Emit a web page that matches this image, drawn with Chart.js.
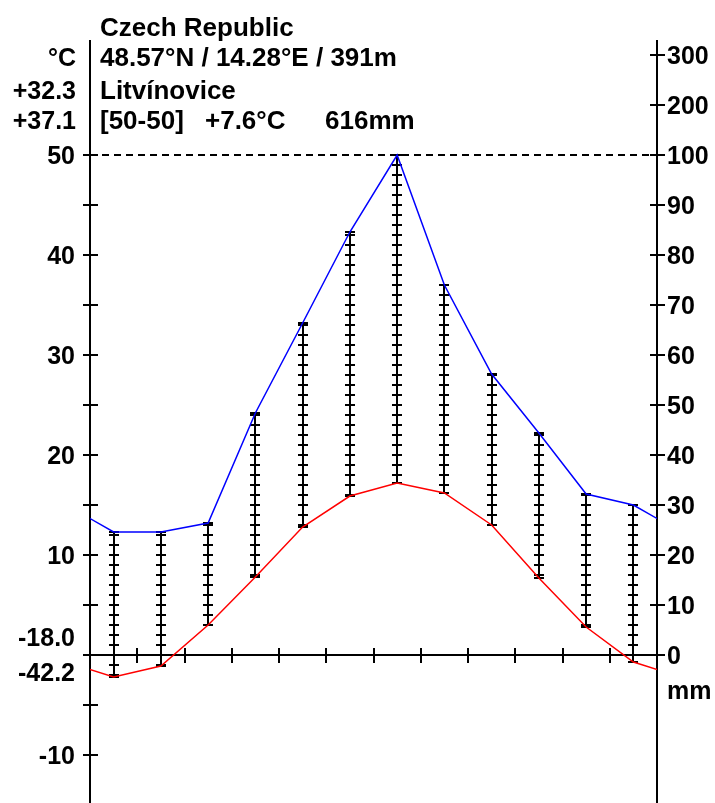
<!DOCTYPE html>
<html>
<head>
<meta charset="utf-8">
<script src="https://cdn.jsdelivr.net/npm/chart.js@4/dist/chart.umd.min.js"></script>
<style>
  html, body { margin: 0; padding: 0; background: #fff; }
  #wrap { width: 715px; height: 803px; }
</style>
</head>
<body>
<div id="wrap"><canvas id="climate" width="715" height="803"></canvas></div>
<script>
// monthly means, Jan..Dec
const months = ['Jan', 'Feb', 'Mar', 'Apr', 'May', 'Jun', 'Jul', 'Aug', 'Sep', 'Oct', 'Nov', 'Dec'];
const tempC = [-2.2, -1.1, 3.0, 7.8, 12.8, 15.9, 17.2, 16.2, 13.0, 7.7, 2.8, -0.7];
const precipMm = [24.6, 24.6, 26.4, 48.4, 66.4, 84.6, 100, 74, 56.2, 44.4, 32.2, 30];

// axis ticks
const tempTicks = [50, 45, 40, 35, 30, 25, 20, 15, 10, 5, 0, -5, -10];
const tempTickLabels = ['50', '', '40', '', '30', '', '20', '', '10', '', '', '', '-10'];
const precipTicks = [300, 200, 100, 90, 80, 70, 60, 50, 40, 30, 20, 10, 0];

// station header
const headerLines = ['Czech Republic', '48.57°N / 14.28°E / 391m', 'Litvínovice'];
const headerStats = ['[50-50]', '+7.6°C', '616mm'];
const tempExtremesTop = ['°C', '+32.3', '+37.1'];
const tempExtremesLow = ['-18.0', '-42.2'];

const FONT = 'bold 25px "Liberation Sans", Arial, sans-serif';
const HEAD_FONT = 'bold 26px "Liberation Sans", Arial, sans-serif';

// above 100 mm the precipitation axis is compressed 1:10
const mmToScale = v => v <= 100 ? v : 100 + (v - 100) / 10;

// wrap Dec before Jan and Jan after Dec so the curves run to the frame
const wrapSeries = (vals, fn) => {
  const pts = vals.map((v, i) => ({ x: i + 0.5, y: fn(v) }));
  pts.unshift({ x: -0.5, y: fn(vals[vals.length - 1]) });
  pts.push({ x: vals.length + 0.5, y: fn(vals[0]) });
  return pts;
};

const frame = {
  id: 'frame',
  beforeDatasetsDraw(chart) {
    const { ctx, chartArea: a, scales } = chart;
    const x = scales.x, yT = scales.yT, yP = scales.yP;
    ctx.save();
    ctx.strokeStyle = '#000';

    // humid period hatching, one ladder per month
    ctx.lineWidth = 2;
    months.forEach((m, i) => {
      const px = Math.round(x.getPixelForValue(i + 0.5));
      const lo = tempC[i] * 2, hi = precipMm[i];
      if (hi <= lo) return;
      const yLo = yP.getPixelForValue(lo), yHi = yP.getPixelForValue(mmToScale(hi));
      ctx.beginPath();
      ctx.moveTo(px, yLo);
      ctx.lineTo(px, yHi);
      const rungs = [lo, hi];
      for (let v = Math.ceil(lo / 2) * 2; v <= hi; v += 2) rungs.push(v);
      rungs.forEach(v => {
        const py = Math.round(yP.getPixelForValue(mmToScale(v)));
        ctx.moveTo(px - 5, py);
        ctx.lineTo(px + 5, py);
      });
      ctx.stroke();
    });

    // dashed 100 mm / 50 °C line
    ctx.lineWidth = 2;
    ctx.setLineDash([7, 5]);
    const y100 = Math.round(yP.getPixelForValue(100));
    ctx.beginPath();
    ctx.moveTo(a.left, y100);
    ctx.lineTo(a.right, y100);
    ctx.stroke();
    ctx.setLineDash([]);

    // frame axes
    ctx.lineWidth = 2;
    const y0 = Math.round(yP.getPixelForValue(0));
    ctx.beginPath();
    ctx.moveTo(a.left, a.top);
    ctx.lineTo(a.left, a.bottom);
    ctx.moveTo(a.right, a.top);
    ctx.lineTo(a.right, a.bottom);
    ctx.moveTo(a.left, y0);
    ctx.lineTo(a.right, y0);
    for (let k = 1; k < months.length; k++) {
      const px = Math.round(x.getPixelForValue(k));
      ctx.moveTo(px, y0 - 7);
      ctx.lineTo(px, y0 + 8);
    }
    tempTicks.forEach(t => {
      const py = Math.round(yT.getPixelForValue(t));
      ctx.moveTo(a.left - 7, py);
      ctx.lineTo(a.left + 8, py);
    });
    precipTicks.forEach(p => {
      const py = Math.round(yP.getPixelForValue(mmToScale(p)));
      ctx.moveTo(a.right - 7, py);
      ctx.lineTo(a.right + 8, py);
    });
    ctx.stroke();
    ctx.restore();
  },
  afterDraw(chart) {
    const { ctx, chartArea: a, scales } = chart;
    const yT = scales.yT, yP = scales.yP;
    ctx.save();
    ctx.fillStyle = '#000';
    ctx.font = FONT;
    ctx.textBaseline = 'alphabetic';

    // tick labels
    ctx.textAlign = 'right';
    tempTicks.forEach((t, i) => {
      if (tempTickLabels[i]) ctx.fillText(tempTickLabels[i], a.left - 15, yT.getPixelForValue(t) + 9);
    });
    ctx.textAlign = 'left';
    precipTicks.forEach(p => {
      ctx.fillText(String(p), a.right + 10, yP.getPixelForValue(mmToScale(p)) + 9);
    });
    ctx.fillText('mm', a.right + 10, yP.getPixelForValue(0) + 44);

    // temperature extremes
    ctx.textAlign = 'right';
    const topRows = [66, 99, 129];
    tempExtremesTop.forEach((s, i) => ctx.fillText(s, a.left - 14, topRows[i]));
    const y0 = yT.getPixelForValue(0);
    ctx.fillText(tempExtremesLow[0], a.left - 15, y0 - 9);
    ctx.fillText(tempExtremesLow[1], a.left - 15, y0 + 26);

    // station header
    ctx.font = HEAD_FONT;
    ctx.textAlign = 'left';
    const rows = [36, 66, 99];
    headerLines.forEach((s, i) => ctx.fillText(s, a.left + 10, rows[i]));
    const statX = [a.left + 10, a.left + 115, a.left + 235];
    headerStats.forEach((s, i) => ctx.fillText(s, statX[i], 129));
    ctx.restore();
  }
};

const config = {
  type: 'line',
  data: {
    datasets: [
      {
        label: 'Precipitation',
        data: wrapSeries(precipMm, mmToScale),
        yAxisID: 'yP',
        borderColor: '#0000ff',
        borderWidth: 1.5,
        pointRadius: 0,
        tension: 0
      },
      {
        label: 'Temperature',
        data: wrapSeries(tempC, v => v),
        yAxisID: 'yT',
        borderColor: '#ff0000',
        borderWidth: 1.5,
        pointRadius: 0,
        tension: 0
      }
    ]
  },
  options: {
    responsive: false,
    animation: false,
    devicePixelRatio: 1,
    layout: { padding: { left: 90, right: 58, top: 40, bottom: 0 } },
    plugins: { legend: { display: false }, tooltip: { enabled: false } },
    scales: {
      x: { type: 'linear', min: 0, max: 12, display: false },
      // 5 px per mm, 0 at y = 655; temperature runs at 1 °C = 2 mm
      yP: { type: 'linear', position: 'right', min: -29.6, max: 123, display: false },
      yT: { type: 'linear', position: 'left', min: -14.8, max: 61.5, display: false }
    }
  },
  plugins: [frame]
};

new Chart(document.getElementById('climate'), config);
</script>
</body>
</html>
